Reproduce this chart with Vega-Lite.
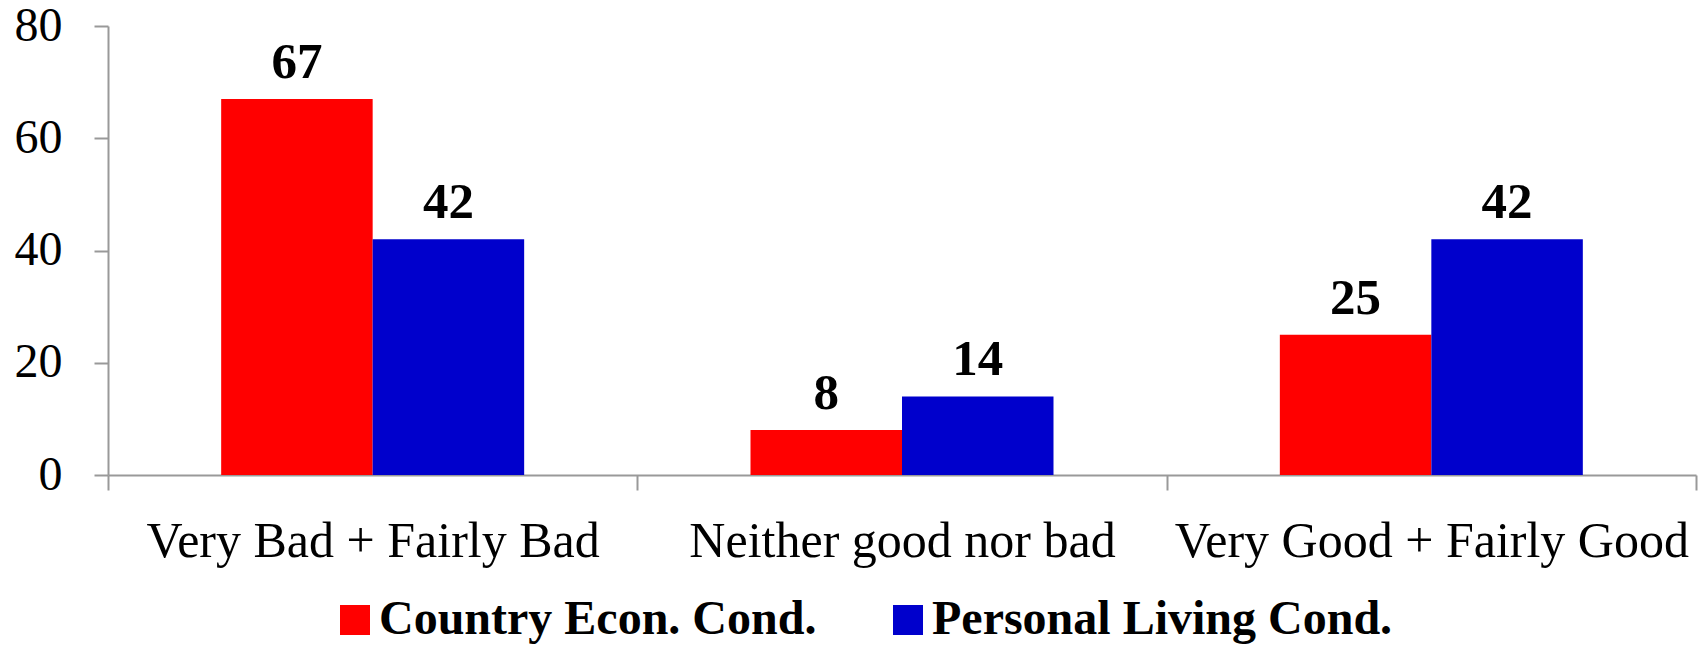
{
  "$schema": "https://vega.github.io/schema/vega-lite/v6.json",
  "width": 1588,
  "height": 449,
  "autosize": {"type": "none"},
  "padding": {"left": 108, "top": 26, "right": 4, "bottom": 170},
  "background": "white",
  "data": {
    "values": [
      {"category": "Very Bad + Fairly Bad", "series": "Country Econ. Cond.", "value": 67},
      {"category": "Very Bad + Fairly Bad", "series": "Personal Living Cond.", "value": 42},
      {"category": "Neither good nor bad", "series": "Country Econ. Cond.", "value": 8},
      {"category": "Neither good nor bad", "series": "Personal Living Cond.", "value": 14},
      {"category": "Very Good + Fairly Good", "series": "Country Econ. Cond.", "value": 25},
      {"category": "Very Good + Fairly Good", "series": "Personal Living Cond.", "value": 42}
    ]
  },
  "encoding": {
    "x": {
      "field": "category",
      "type": "nominal",
      "sort": ["Very Bad + Fairly Bad", "Neither good nor bad", "Very Good + Fairly Good"],
      "scale": {"paddingInner": 0, "paddingOuter": 0},
      "axis": {
        "title": null,
        "labelAngle": 0,
        "tickBand": "extent",
        "tickSize": 15,
        "tickColor": "#999999",
        "tickWidth": 2,
        "domainColor": "#999999",
        "domainWidth": 2,
        "labelPadding": 26,
        "labelFont": "Liberation Serif",
        "labelFontSize": 50,
        "labelColor": "#000000",
        "labelLimit": 0
      }
    },
    "xOffset": {
      "field": "series",
      "type": "nominal",
      "sort": ["Country Econ. Cond.", "Personal Living Cond."],
      "scale": {"paddingInner": 0, "paddingOuter": 0.747}
    },
    "y": {
      "field": "value",
      "type": "quantitative",
      "scale": {"domain": [0, 80]},
      "axis": {
        "title": null,
        "values": [0, 20, 40, 60, 80],
        "grid": false,
        "tickSize": 14,
        "tickColor": "#999999",
        "tickWidth": 2,
        "domainColor": "#999999",
        "domainWidth": 2,
        "labelPadding": 32,
        "labelFont": "Liberation Serif",
        "labelFontSize": 48,
        "labelColor": "#000000"
      }
    }
  },
  "layer": [
    {
      "mark": {"type": "bar"},
      "encoding": {
        "color": {
          "field": "series",
          "type": "nominal",
          "sort": ["Country Econ. Cond.", "Personal Living Cond."],
          "scale": {"domain": ["Country Econ. Cond.", "Personal Living Cond."], "range": ["#FF0000", "#0000CC"]},
          "legend": {
            "title": null,
            "orient": "none",
            "legendX": 223,
            "legendY": 570,
            "direction": "horizontal",
            "symbolType": "square",
            "symbolSize": 900,
            "symbolStrokeWidth": 0,
            "labelFont": "Liberation Serif",
            "labelFontWeight": "bold",
            "labelFontSize": 48,
            "labelColor": "#000000",
            "labelLimit": 0,
            "labelOffset": 0,
            "columnPadding": 67
          }
        }
      }
    },
    {
      "mark": {"type": "text", "baseline": "alphabetic", "dy": -21, "font": "Liberation Serif", "fontWeight": "bold", "fontSize": 51, "color": "#000000"},
      "encoding": {"text": {"field": "value", "type": "quantitative"}}
    }
  ],
  "config": {"view": {"stroke": null}}
}
